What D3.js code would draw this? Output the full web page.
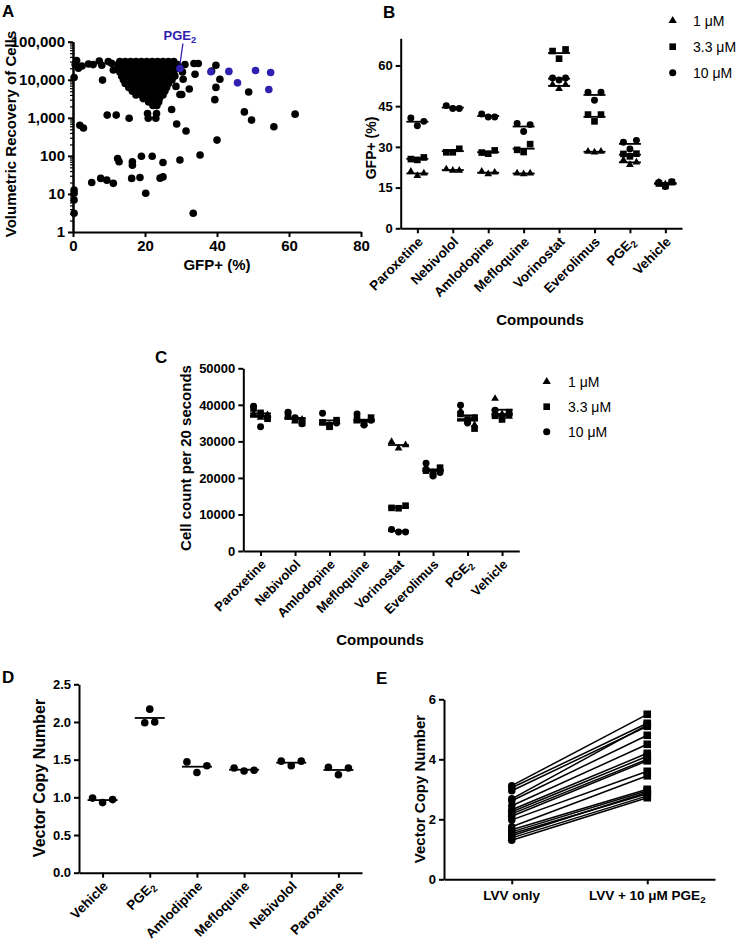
<!DOCTYPE html>
<html><head><meta charset="utf-8">
<script src="https://cdn.jsdelivr.net/npm/d3@7"></script>
<style>body{margin:0;background:#fff}svg{display:block}</style>
</head><body><svg id="c" width="743" height="947"></svg>
<script>
// ---------------- DATA ----------------
// Panel A: screen, GFP+ (%) vs volumetric recovery
const clusterA_y = [30000,25000,20000,16000,12500,10000,8000,6300,5000,4000,3200,2600,2100];
const clusterA_x = [
  [13,14.5,16,17.5,19,20.5,22,23.5,25,26.5,28],
  [12.5,14,15.5,17,18.5,20,21.5,23,24.5,26,27.5,29],
  [12.5,14,15.5,17,18.5,20,21.5,23,24.5,26,27.5,29.2],
  [13,14.5,16,17.5,19,20.5,22,23.5,25,26.5,28],
  [13.5,15,16.5,18,19.5,21,22.5,24,25.5,27,28.3],
  [14,15.5,17,18.5,20,21.5,23,24.5,26,27.5],
  [14.5,16,17.5,19,20.5,22,23.5,25,26.5],
  [15.5,17,18.5,20,21.5,23,24.5,26],
  [16.5,18,19.5,21,22.5,24,25.5],
  [17.5,19,20.5,22,23.5,25],
  [19.5,21,22.5,24],
  [21,22.5,23.8],
  [22.2,23.3]
];
const scatterA = [
  [0.3,11500],[1,32000],[1.5,20000],[0.6,25000],[2.5,23000],[4.3,26000],[5.6,25000],[7.3,31000],[8,24000],[9.8,30000],[10.7,27000],[11.2,18000],[8.2,9800],
  [1.9,640],[2.9,540],[9.5,1180],[12,1180],[15.6,970],[20.7,1300],[20.9,970],[23.2,1300],[23,970],[27.4,1650],[28.8,690],[31.4,450],[40,260],[35.3,105],
  [29.7,78],[25,67],[22,98],[19,98],[16.5,70],[16.5,57],[12.4,85],[12.8,70],[5.2,20],[7.7,25.6],[9.4,23],[11.2,19],[16.3,25.6],[18.6,27],[24.2,26],[25,28],
  [20.2,10.4],[33.4,3.1],[0.3,12.7],[0.3,10.4],[0.3,6.9],[0.3,3.1],
  [31.1,25000],[33.6,26800],[34.8,26800],[33.9,14000],[39.7,24000],[38.5,17000],[40.8,10300],[39.7,6300],[39.4,3000],[32.3,5700],[29.7,4100],[30.2,4100],
  [28.6,6700],[30.6,10300],[30.4,16000],[48.8,4750],[47.6,1430],[49.6,870],[55.8,580],[61.7,1250]
];
const pge2A = [[29.7,19800],[38.3,16300],[43.3,16600],[45.7,8300],[50.7,17500],[54.9,15500],[54.4,5560]];
const yTicksA = [1,10,100,1000,10000,100000];
const xTicksA = [0,20,40,60,80];

// Panel B: GFP+ (%) per compound and dose
const compoundsB = ["Paroxetine","Nebivolol","Amlodopine","Mefloquine","Vorinostat","Everolimus","PGE2","Vehicle"];
const doses = ["1 \u03bcM","3.3 \u03bcM","10 \u03bcM"];
const gfp1uM  = [[20.9,19.4,20.3],[21.8,21.3,21.3],[20.9,20.0,20.6],[20.3,20.0,20.3],[53.0,51.4,53.0],[28.3,28.0,28.3],[25.2,23.4,24.3],[17.0,16.2,16.8]];
const gfp33uM = [[25.5,25.2,26.1],[28.0,28.0,29.3],[27.9,27.5,28.7],[28.9,28.1,31.0],[65.3,62.5,65.9],[41.9,39.4,41.9],[27.4,26.5,27.5],[16.5,15.6,17.0]];
const gfp10uM = [[40.6,37.8,39.4],[45.2,44.1,44.1],[42.1,41.0,41.0],[38.6,35.7,38.2],[55.4,54.6,55.4],[50.1,47.2,50.1],[31.7,29.2,32.4],[16.9,15.4,17.2]];
const yTicksB = [0,15,30,45,60];

// Panel C: cell count per 20 seconds
const compoundsC = ["Paroxetine","Nebivolol","Amlodopine","Mefloquine","Vorinostat","Everolimus","PGE2","Vehicle"];
const cells1uM  = [[37500,36500,37200],[37000,35500,36000],[35000,34200,35500],[35500,34800,36000],[29900,28100,29000],[23000,21500,22500],[38300,35500,34500],[41700,37500,36800]];
const cells33uM = [[39000,37800,36200],[37500,36000,35000],[35200,34000,35800],[36000,35000,36500],[11800,11700,12400],[22000,21000,22800],[37500,36000,33500],[37000,36000,38000]];
const cells10uM = [[39600,34000,36500],[38000,36500,34800],[37700,34500,35000],[37500,34500,35800],[5900,5200,5200],[24000,20500,21500],[39900,35000,36500],[38500,36500,37500]];
const yTicksC = [0,10000,20000,30000,40000,50000];

// Panel D: vector copy number
const compoundsD = ["Vehicle","PGE2","Amlodipine","Mefloquine","Nebivolol","Paroxetine"];
const vcnD = [[0.99,0.93,0.97],[1.99,2.17,2.00],[1.47,1.33,1.42],[1.39,1.35,1.36],[1.48,1.42,1.48],[1.40,1.30,1.39]];
const yTicksD = [0,0.5,1.0,1.5,2.0,2.5];

// Panel E: paired vector copy number
const groupsE = ["LVV only","LVV + 10 \u03bcM PGE2"];
const vcnLVV   = [3.12,3.05,2.95,2.68,2.62,2.45,2.32,2.25,2.18,2.10,1.98,1.75,1.65,1.58,1.52,1.45,1.38,1.30];
const vcnPGE2  = [5.50,5.20,5.10,5.15,4.80,4.50,4.20,4.10,4.00,3.95,3.60,3.45,3.00,2.95,2.85,2.90,2.78,2.72];
const yTicksE = [0,2,4,6];

// ---------------- DRAW ----------------
const FONT = "'Liberation Sans', Arial, Helvetica, sans-serif";
const BLUE = "#3020b0";
const svg = d3.select("#c").attr("font-family", FONT);
svg.append("rect").attr("width",743).attr("height",947).attr("fill","#fff");

function styleAxis(g, fs){
  g.attr("font-family", FONT);
  g.select(".domain").attr("stroke","#000").attr("stroke-width",2);
  g.selectAll(".tick line").attr("stroke","#000").attr("stroke-width",2);
  g.selectAll(".tick text").attr("fill","#000").attr("font-size",fs).attr("font-weight","bold");
}
function label(txt, x, y, fs, opts={}){
  const t = svg.append("text").attr("x",x).attr("y",y).attr("font-size",fs)
    .attr("font-weight", opts.weight||"bold").attr("text-anchor", opts.anchor||"start").attr("fill", opts.fill||"#000");
  if (opts.rotate) t.attr("transform", `rotate(${opts.rotate},${x},${y})`);
  addRich(t, txt);
  return t;
}
// text with PGE2 subscript
function addRich(t, txt){
  const idx = txt.indexOf("PGE2");
  if (idx < 0){ t.text(txt); return; }
  t.append("tspan").text(txt.slice(0, idx+3));
  t.append("tspan").text("2").attr("font-size","0.72em").attr("dy","0.3em");
  if (txt.length > idx+4) t.append("tspan").text(txt.slice(idx+4)).attr("dy","-0.3em");
}
function rotLabels(scale, cats, axisY, fs, dx, dy){
  cats.forEach(c=>{
    const x = scale(c) + dx, y = axisY + dy;
    const t = svg.append("text").attr("font-size",fs).attr("font-weight","bold").attr("text-anchor","end")
      .attr("transform",`translate(${x},${y}) rotate(-45)`).attr("dy","0.35em");
    addRich(t, c);
  });
}
const sym = {
  tri: d3.symbol().type(d3.symbolTriangle).size(26),
  sq: d3.symbol().type(d3.symbolSquare).size(44),
  circ: d3.symbol().type(d3.symbolCircle).size(38)
};

// ===== Panel A =====
const xA = d3.scaleLinear().domain([0,80]).range([73,361]);
const yA = d3.scaleLog().domain([1,100000]).range([232,41.7]);
label("A", 2, 17, 17);
const minorA = [];
for (let e=0;e<5;e++) for (let m=2;m<10;m++) minorA.push(m*Math.pow(10,e));
svg.append("g").attr("transform","translate(73,0)").call(d3.axisLeft(yA).tickValues(minorA).tickSize(3).tickFormat("").tickSizeOuter(0)).call(g=>styleAxis(g,15)).call(g=>g.selectAll(".tick line").attr("stroke-width",1.2));
svg.append("g").attr("transform","translate(73,0)").call(d3.axisLeft(yA).tickValues(yTicksA).tickFormat(d3.format(",")).tickSize(5).tickSizeOuter(0)).call(g=>styleAxis(g,15));
svg.append("g").attr("transform","translate(0,232)").call(d3.axisBottom(xA).tickValues(xTicksA).tickSize(5).tickSizeOuter(0)).call(g=>styleAxis(g,15));
label("Volumetric Recovery of Cells", 16, 134, 15, {anchor:"middle", rotate:-90});
label("GFP+ (%)", 217, 270, 15, {anchor:"middle"});
const clusterPts = [];
clusterA_y.forEach((yv,i)=>clusterA_x[i].forEach(xv=>clusterPts.push([xv,yv])));
svg.append("g").selectAll("circle").data(clusterPts.concat(scatterA)).join("circle")
  .attr("cx",d=>xA(d[0])).attr("cy",d=>yA(d[1])).attr("r",3.8).attr("fill","#000");
svg.append("g").selectAll("circle").data(pge2A).join("circle")
  .attr("cx",d=>xA(d[0])).attr("cy",d=>yA(d[1])).attr("r",3.8).attr("fill",BLUE);
const pA = pge2A[0];
svg.append("line").attr("x1",xA(pA[0])).attr("y1",yA(pA[1])-4).attr("x2",xA(pA[0])+3).attr("y2",yA(pA[1])-25)
  .attr("stroke",BLUE).attr("stroke-width",1.3);
label("PGE2", xA(pA[0]), 40, 13, {anchor:"middle", fill:BLUE});

// ===== shared dose-group drawing =====
function doseGroups(x, y, cats, sets, spread, halfLine){
  const types = ["tri","sq","circ"];
  sets.forEach((set,k)=>{
    cats.forEach((c,ci)=>{
      set[ci].forEach((v,i)=>{
        svg.append("path").attr("d", sym[types[k]]()).attr("fill","#000")
          .attr("transform",`translate(${x(c)+(i-1)*spread},${y(v)})`);
      });
    });
  });
  sets.forEach(set=>{
    cats.forEach((c,ci)=>{
      const m = d3.mean(set[ci]);
      svg.append("line").attr("x1",x(c)-halfLine).attr("x2",x(c)+halfLine).attr("y1",y(m)).attr("y2",y(m))
        .attr("stroke","#000").attr("stroke-width",1.8);
    });
  });
}
function legend(x, y0, step, tx, fs){
  doses.forEach((d,i)=>{
    svg.append("path").attr("d", d3.symbol().type([d3.symbolTriangle,d3.symbolSquare,d3.symbolCircle][i]).size([30,44,40][i])()).attr("fill","#000")
      .attr("transform",`translate(${x},${y0+i*step})`);
    svg.append("text").attr("x",tx).attr("y",y0+i*step+5).attr("font-size",fs).attr("fill","#000").text(d);
  });
}

// ===== Panel B =====
const xB = d3.scalePoint().domain(compoundsB).range([400.7,682]).padding(0.47);
const yB = d3.scaleLinear().domain([0,70]).range([228.3,38.3]);
label("B", 383, 18, 17);
svg.append("g").attr("transform","translate(400.7,0)").call(d3.axisLeft(yB).tickValues(yTicksB).tickSize(5).tickSizeOuter(0)).call(g=>styleAxis(g,13));
svg.append("g").attr("transform","translate(0,228.3)").call(d3.axisBottom(xB).tickSize(5).tickSizeOuter(0).tickFormat("")).call(g=>styleAxis(g,13));
rotLabels(xB, compoundsB, 228.3, 13.5, 3, 11);
label("GFP+ (%)", 376, 148, 14, {anchor:"middle", rotate:-90});
label("Compounds", 540, 325, 15, {anchor:"middle"});
doseGroups(xB, yB, compoundsB, [gfp1uM,gfp33uM,gfp10uM], 6.5, 11);
legend(672.7, 20.7, 26, 693, 14);

// ===== Panel C =====
const xC = d3.scalePoint().domain(compoundsC).range([243.3,519.3]).padding(0.5);
const yC = d3.scaleLinear().domain([0,50000]).range([551,368.3]);
label("C", 155, 363, 17);
svg.append("g").attr("transform","translate(243.3,0)").call(d3.axisLeft(yC).tickValues(yTicksC).tickFormat(d3.format("d")).tickSize(5).tickSizeOuter(0)).call(g=>styleAxis(g,13));
svg.append("g").attr("transform","translate(0,551)").call(d3.axisBottom(xC).tickSize(5).tickSizeOuter(0).tickFormat("")).call(g=>styleAxis(g,13));
rotLabels(xC, compoundsC, 551, 13, 3, 11);
label("Cell count per 20 seconds", 191, 458, 15, {anchor:"middle", rotate:-90});
label("Compounds", 380, 645, 15, {anchor:"middle"});
doseGroups(xC, yC, compoundsC, [cells1uM,cells33uM,cells10uM], 7, 10.5);
legend(546.7, 381.7, 25, 568, 14);

// ===== Panel D =====
const xD = d3.scalePoint().domain(compoundsD).range([79,362]).padding(0.5);
const yD = d3.scaleLinear().domain([0,2.5]).range([872.7,684.3]);
label("D", 2, 683, 17);
svg.append("g").attr("transform","translate(79,0)").call(d3.axisLeft(yD).tickValues(yTicksD).tickFormat(d3.format(".1f")).tickSize(5).tickSizeOuter(0)).call(g=>styleAxis(g,13));
svg.append("g").attr("transform","translate(0,872.7)").call(d3.axisBottom(xD).tickSize(5).tickSizeOuter(0).tickFormat("")).call(g=>styleAxis(g,13));
rotLabels(xD, compoundsD, 872.7, 13.5, 3, 11);
label("Vector Copy Number", 45, 778, 16, {anchor:"middle", rotate:-90});
// row layout: points closer than 8px vertically share a row and are spread symmetrically
compoundsD.forEach((c,ci)=>{
  const vals = vcnD[ci].map((v,i)=>({v,i,py:yD(v)}));
  const sorted = vals.slice().sort((a,b)=>a.py-b.py);
  const rows = []; let cur = [sorted[0]];
  for (let k=1;k<sorted.length;k++){
    if (sorted[k].py - sorted[k-1].py < 8) cur.push(sorted[k]); else { rows.push(cur); cur=[sorted[k]]; }
  }
  rows.push(cur);
  rows.forEach(r=>{
    r.sort((a,b)=>a.i-b.i);
    r.forEach((p,j)=>{
      svg.append("circle").attr("cx", xD(c) + (j-(r.length-1)/2)*10).attr("cy", p.py).attr("r",3.8).attr("fill","#000");
    });
  });
  const m = d3.mean(vcnD[ci]);
  svg.append("line").attr("x1",xD(c)-15).attr("x2",xD(c)+15).attr("y1",yD(m)).attr("y2",yD(m)).attr("stroke","#000").attr("stroke-width",1.8);
});

// ===== Panel E =====
const xE = d3.scalePoint().domain(groupsE).range([444,715]).padding(0.5);
const yE = d3.scaleLinear().domain([0,6]).range([879.3,699.3]);
label("E", 376, 684, 17);
svg.append("g").attr("transform","translate(444,0)").call(d3.axisLeft(yE).tickValues(yTicksE).tickFormat(d3.format("d")).tickSize(5).tickSizeOuter(0)).call(g=>styleAxis(g,13));
svg.append("g").attr("transform","translate(0,879.3)").call(d3.axisBottom(xE).tickSize(5).tickSizeOuter(0).tickFormat("")).call(g=>styleAxis(g,13));
groupsE.forEach(gname=>label(gname, xE(gname), 900, 13.5, {anchor:"middle"}));
label("Vector Copy Number", 425, 789, 15, {anchor:"middle", rotate:-90});
vcnLVV.forEach((v,i)=>{
  svg.append("line").attr("x1",xE(groupsE[0])).attr("y1",yE(v)).attr("x2",xE(groupsE[1])).attr("y2",yE(vcnPGE2[i]))
    .attr("stroke","#000").attr("stroke-width",1.5);
});
svg.append("g").selectAll("circle").data(vcnLVV).join("circle")
  .attr("cx",xE(groupsE[0])).attr("cy",d=>yE(d)).attr("r",3.8).attr("fill","#000");
svg.append("g").selectAll("rect").data(vcnPGE2).join("rect")
  .attr("x",xE(groupsE[1])-3.8).attr("y",d=>yE(d)-3.8).attr("width",7.6).attr("height",7.6).attr("fill","#000");
</script></body></html>
